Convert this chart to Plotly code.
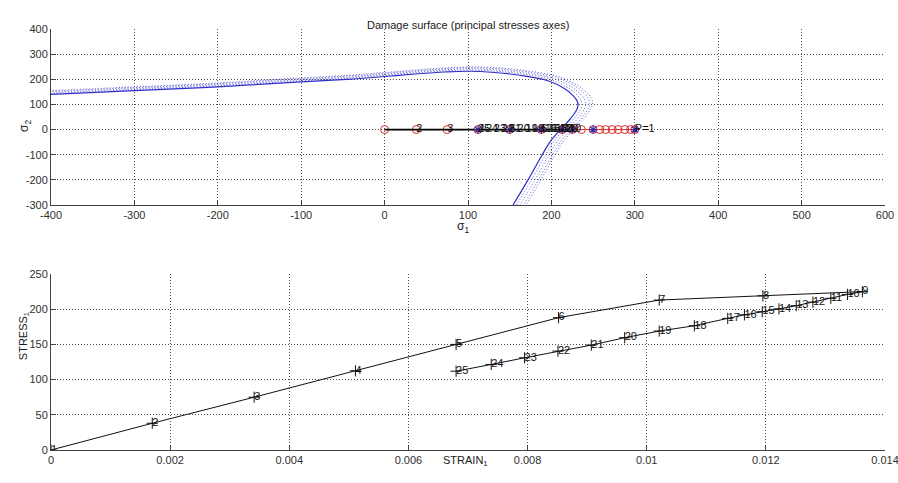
import plotly.graph_objects as go

# ---------------- data ----------------
# damage surface (principal stress space)
surf_s1 = [-400, -300, -200, -100, -40, 0, 40, 72, 100, 132, 162, 195, 216, 226, 230.5, 232, 231, 228, 222, 211, 200, 189, 172, 154]
surf_s2 = [140, 155, 170, 190, 201, 211, 222, 229, 232, 227, 216, 195, 162, 135, 116, 100, 84, 66, 40, 0, -41, -100, -200, -300]
# dotted (previous / trial) surfaces, as scale factors of the solid one
dotted_scales = [1.02, 1.04, 1.06, 1.075]

# stress / strain path (steps 1..25)
step_labels = [str(i) for i in range(1, 26)]
strain1 = [0.0, 0.00170, 0.00341, 0.00511, 0.00680, 0.00852, 0.01021, 0.01195, 0.01362,
           0.01337, 0.01309, 0.01279, 0.01251, 0.01222, 0.01194, 0.01164, 0.01136, 0.01080,
           0.01021, 0.00963, 0.00907, 0.00851, 0.00795, 0.00739, 0.00680]
stress1 = [0, 38, 75, 112.5, 150, 188, 213, 219, 225, 221, 215.5, 210, 205, 200.5, 196.5,
           192, 187, 176.5, 169, 159.5, 149, 140.5, 131, 121.5, 112]

# trial stresses on the sigma_1 axis (red circles)
trial_s1 = [0, 38, 75, 112, 150, 188, 213, 225, 236, 250, 258, 265, 273, 280, 288, 295, 300]
blue_s1 = [112, 150, 188, 213, 225, 250, 300]
p_label = "P=1"
p_label_s1 = 300

# ticks
x1_ticks = [-400, -300, -200, -100, 0, 100, 200, 300, 400, 500, 600]
x1_ticktext = ["-400", "-300", "-200", "-100", "0", "100", "200", "300", "400", "500", "600"]
y1_ticks = [-300, -200, -100, 0, 100, 200, 300, 400]
y1_ticktext = ["-300", "-200", "-100", "0", "100", "200", "300", "400"]
x2_ticks = [0, 0.002, 0.004, 0.006, 0.008, 0.01, 0.012, 0.014]
x2_ticktext = ["0", "0.002", "0.004", "0.006", "0.008", "0.01", "0.012", "0.014"]
y2_ticks = [0, 50, 100, 150, 200, 250]
y2_ticktext = ["0", "50", "100", "150", "200", "250"]

FONT = "Liberation Sans, Arial, Helvetica, sans-serif"
BLUE = "#2f2fc8"
DOTBLUE = "#5a5ad2"
RED = "#e03030"

fig = go.Figure()

# ---- top: damage surface ----
for s in dotted_scales:
    fig.add_trace(go.Scatter(
        x=[v * s for v in surf_s1], y=[v * s for v in surf_s2],
        mode="lines", line=dict(color=DOTBLUE, width=1, dash="1px,2px", shape="spline", smoothing=1.0),
        xaxis="x", yaxis="y", hoverinfo="skip", showlegend=False))
fig.add_trace(go.Scatter(
    x=surf_s1, y=surf_s2, mode="lines",
    line=dict(color=BLUE, width=1.2, shape="spline", smoothing=1.0),
    xaxis="x", yaxis="y", showlegend=False))

fig.add_trace(go.Scatter(
    x=trial_s1, y=[0] * len(trial_s1), mode="lines+markers",
    line=dict(color=RED, width=1),
    marker=dict(symbol="circle-open", size=8, color=RED, line=dict(width=1, color=RED)),
    xaxis="x", yaxis="y", showlegend=False))
fig.add_trace(go.Scatter(
    x=stress1, y=[0] * len(stress1), mode="lines",
    line=dict(color="black", width=1.8),
    xaxis="x", yaxis="y", showlegend=False))
fig.add_trace(go.Scatter(
    x=blue_s1, y=[0] * len(blue_s1), mode="markers",
    marker=dict(symbol="asterisk-open", size=7, color="#3a2aa8", line=dict(width=1.2, color="#3a2aa8")),
    xaxis="x", yaxis="y", showlegend=False))
fig.add_trace(go.Scatter(
    x=stress1[1:], y=[0] * (len(stress1) - 1), mode="text",
    text=step_labels[1:], textposition="middle right",
    textfont=dict(family=FONT, size=11, color="#111111"),
    xaxis="x", yaxis="y", showlegend=False))
fig.add_trace(go.Scatter(
    x=[p_label_s1], y=[0], mode="text", text=[p_label], textposition="middle right",
    textfont=dict(family=FONT, size=11, color="#111111"),
    xaxis="x", yaxis="y", showlegend=False))

# ---- bottom: stress-strain ----
fig.add_trace(go.Scatter(
    x=strain1, y=stress1, mode="lines+markers",
    line=dict(color="#111111", width=1),
    marker=dict(symbol="cross-thin-open", size=8, color="#111111", line=dict(width=1, color="#111111")),
    xaxis="x2", yaxis="y2", showlegend=False))
fig.add_trace(go.Scatter(
    x=strain1, y=stress1, mode="text", text=step_labels, textposition="middle right",
    textfont=dict(family=FONT, size=11, color="#111111"),
    xaxis="x2", yaxis="y2", showlegend=False))

axis_common = dict(
    showline=True, linecolor="#404040", linewidth=1, mirror=False,
    ticks="inside", ticklen=5, tickcolor="#404040",
    showgrid=True, gridcolor="#505050", gridwidth=1, griddash="1px,2px",
    zeroline=False, automargin=False, ticklabeloverflow="allow",
    tickfont=dict(family=FONT, size=11, color="#303030"),
)

fig.update_layout(
    width=898, height=483,
    margin=dict(l=51, r=13, t=29, b=33, autoexpand=False),
    paper_bgcolor="white", plot_bgcolor="white",
    font=dict(family=FONT, size=11, color="#202020"),
    xaxis=dict(axis_common, domain=[0, 1], anchor="y", range=[-400, 600],
               tickvals=x1_ticks, ticktext=x1_ticktext),
    yaxis=dict(axis_common, domain=[0.582, 1.0], anchor="x", range=[-300, 400],
               tickvals=y1_ticks, ticktext=y1_ticktext),
    xaxis2=dict(axis_common, domain=[0, 1], anchor="y2", range=[0, 0.014],
                tickvals=x2_ticks, ticktext=x2_ticktext),
    yaxis2=dict(axis_common, domain=[0, 0.418], anchor="x2", range=[0, 250],
                tickvals=y2_ticks, ticktext=y2_ticktext),
    annotations=[
        dict(text="Damage surface (principal stresses axes)", xref="paper", yref="paper",
             x=0.500, y=1.028, showarrow=False, font=dict(family=FONT, size=11, color="#202020")),
        dict(text="σ<sub>1</sub>", xref="paper", yref="paper", x=0.494, y=0.530,
             showarrow=False, font=dict(family=FONT, size=12, color="#202020")),
        dict(text="σ<sub>2</sub>", xref="paper", yref="paper", x=-0.043, y=0.789,
             textangle=-90, showarrow=False, font=dict(family=FONT, size=12, color="#202020")),
        dict(text="STRAIN<sub>1</sub>", xref="paper", yref="paper", x=0.4976, y=-0.047,
             showarrow=False, font=dict(family=FONT, size=11, color="#202020")),
        dict(text="STRESS<sub>1</sub>", xref="paper", yref="paper", x=-0.043, y=0.209,
             textangle=-90, showarrow=False, font=dict(family=FONT, size=11, color="#202020")),
    ],
)

fig.write_html(
    "out.html",
    config={"displayModeBar": False},
    post_script="document.body.style.margin='0';document.body.style.overflow='hidden';",
)
